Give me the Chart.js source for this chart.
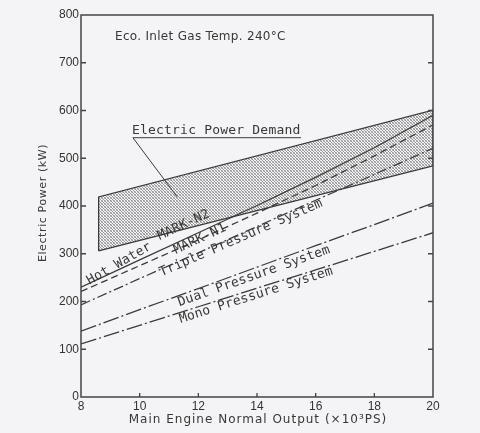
<!DOCTYPE html>
<html><head><meta charset="utf-8">
<script src="https://cdn.jsdelivr.net/npm/chart.js@4.4.0/dist/chart.umd.min.js"></script>
<style>html,body{margin:0;padding:0;background:#f4f4f6;} #wrap{width:480px;height:433px;}</style>
</head><body><div id="wrap"><canvas id="c" width="480" height="433"></canvas></div>
<script>
// ---- data ----
const outputX        = [8, 10, 12, 14, 16, 18, 20];          // x 10^3 PS
const hotWaterMarkN2 = [230, 287, 344, 401, 460, 522, 590];  // kW, solid
const markN1         = [221, 275, 329, 385, 443, 505, 570];  // kW, dashed
const triplePressure = [193, 248, 302, 357, 412, 466, 521];  // kW
const dualPressure   = [138, 183, 227, 272, 317, 361, 406];  // kW
const monoPressure   = [111, 150, 189, 228, 266, 305, 344];  // kW
const demandX        = [8.6, 20];
const demandUpper    = [419, 601];
const demandLower    = [306, 484];
const leaderX        = [15.5, 9.77, 11.28];
const leaderY        = [543, 543, 419];
const xTickValues    = [8, 10, 12, 14, 16, 18, 20];
const yTickValues    = [0, 100, 200, 300, 400, 500, 600, 700, 800];

const labelTexts  = ['Hot Water', 'MARK-N2', 'MARK-N1', 'Triple Pressure System', 'Dual Pressure System', 'Mono Pressure System', 'Electric Power Demand', 'Eco. Inlet Gas Temp. 240°C'];
const labelX      = [9.3, 11.5, 12.06, 13.46, 13.9, 13.97, 12.61, 9.16];
const labelY      = [279, 360, 331, 333, 253, 213, 557, 754];
const labelAngle  = [-30, -25, -25, -23.5, -19.5, -17.7, 0, 0];
const labelAlign  = ['center','center','center','center','center','center','center','left'];

// ---- build ----
const pts = (xs, ys) => xs.map((x, i) => ({x, y: ys[i]}));
const demandShape = [
  {x: demandX[0], y: demandLower[0]}, {x: demandX[0], y: demandUpper[0]},
  {x: demandX[1], y: demandUpper[1]}, {x: demandX[1], y: demandLower[1]},
  {x: demandX[0], y: demandLower[0]}
];

const pc = document.createElement('canvas');
pc.width = 3; pc.height = 3;
const pctx = pc.getContext('2d');
pctx.fillStyle = 'rgba(70,70,70,0.55)';
pctx.fillRect(0, 0, 1, 1); pctx.fillRect(1, 1, 1, 1); pctx.fillRect(2, 2, 1, 1);
pctx.fillStyle = 'rgba(70,70,70,0.3)';
pctx.fillRect(2, 0, 1, 1); pctx.fillRect(0, 2, 1, 1);
const hatch = pctx.createPattern(pc, 'repeat');

const ink = '#3a3a3a';
const lineDs = (label, xs, ys, dash) => ({
  label, data: pts(xs, ys), showLine: true, pointRadius: 0, borderColor: ink,
  borderWidth: 1.3, borderDash: dash, fill: false, tension: 0
});

const decor = {
  id: 'decor',
  afterDatasetsDraw(chart) {
    const {ctx, chartArea: a, scales} = chart;
    const xs = scales.x, ys = scales.y;
    ctx.save();
    ctx.strokeStyle = '#444'; ctx.lineWidth = 1.5;
    ctx.strokeRect(a.left, a.top, a.right - a.left, a.bottom - a.top);
    ctx.lineWidth = 1.3;
    ctx.beginPath();
    yTickValues.forEach(v => {
      if (v === 0 || v === 800) return;
      const py = ys.getPixelForValue(v);
      ctx.moveTo(a.left, py); ctx.lineTo(a.left + 5, py);
      ctx.moveTo(a.right, py); ctx.lineTo(a.right - 5, py);
    });
    xTickValues.forEach(v => {
      if (v === 8 || v === 20) return;
      const px = xs.getPixelForValue(v);
      ctx.moveTo(px, a.bottom); ctx.lineTo(px, a.bottom - 4);
    });
    ctx.stroke();
    ctx.fillStyle = '#383838';
    labelTexts.forEach((t, i) => {
      const px = xs.getPixelForValue(labelX[i]);
      const py = ys.getPixelForValue(labelY[i]);
      ctx.save();
      ctx.translate(px, py);
      ctx.rotate(labelAngle[i] * Math.PI / 180);
      if (i === 7) { ctx.font = '12px "DejaVu Sans"'; ctx.letterSpacing = '0.3px'; }
      else { ctx.font = '13px "DejaVu Sans Mono"'; ctx.letterSpacing = '0.2px'; }
      ctx.textAlign = labelAlign[i]; ctx.textBaseline = 'middle';
      ctx.fillText(t, 0, 0);
      ctx.restore();
    });
    ctx.font = '12px "DejaVu Sans"'; ctx.letterSpacing = '1px';
    ctx.textAlign = 'center'; ctx.textBaseline = 'middle';
    ctx.fillText('Main Engine Normal Output (×10³PS)', 258, 420);
    ctx.save();
    ctx.translate(43, 203); ctx.rotate(-Math.PI / 2);
    ctx.font = '11px "DejaVu Sans"'; ctx.letterSpacing = '0.6px';
    ctx.fillText('Electric Power (kW)', 0, 0);
    ctx.restore();
    ctx.restore();
  }
};

new Chart(document.getElementById('c'), {
  type: 'scatter',
  data: {
    datasets: [
      {label: 'Electric Power Demand', data: demandShape, showLine: true, pointRadius: 0,
       borderColor: ink, borderWidth: 1.2, backgroundColor: hatch, fill: 'shape', tension: 0},
      {label: 'leader', data: pts(leaderX, leaderY), showLine: true, pointRadius: 0,
       borderColor: ink, borderWidth: 1, fill: false, tension: 0},
      lineDs('Hot Water MARK-N2', outputX, hotWaterMarkN2, []),
      lineDs('MARK-N1', outputX, markN1, [7, 4]),
      lineDs('Triple Pressure System', outputX, triplePressure, [10, 3, 2, 3]),
      lineDs('Dual Pressure System', outputX, dualPressure, [16, 3, 2, 3]),
      lineDs('Mono Pressure System', outputX, monoPressure, [16, 3, 2, 3])
    ]
  },
  options: {
    responsive: false, animation: false,
    layout: {padding: 0},
    plugins: {legend: {display: false}, tooltip: {enabled: false}},
    scales: {
      x: {type: 'linear', position: 'bottom', min: 8, max: 20,
          ticks: {stepSize: 2, color: '#333', font: {family: 'Liberation Sans', size: 12}, padding: 2, maxRotation: 0, autoSkip: false},
          grid: {display: false, drawTicks: false}, border: {display: false},
          afterFit(s) { s.height = 36; }},
      y: {type: 'linear', position: 'left', min: 0, max: 800,
          ticks: {stepSize: 100, color: '#333', font: {family: 'Liberation Sans', size: 12}, padding: 2},
          grid: {display: false, drawTicks: false}, border: {display: false},
          afterFit(s) { s.width = 81; }},
      x2: {type: 'linear', position: 'top', min: 8, max: 20,
           ticks: {display: false}, grid: {display: false, drawTicks: false}, border: {display: false},
           afterFit(s) { s.height = 15; }},
      y2: {type: 'linear', position: 'right', min: 0, max: 800,
           ticks: {display: false}, grid: {display: false, drawTicks: false}, border: {display: false},
           afterFit(s) { s.width = 47; }}
    }
  },
  plugins: [decor]
});
</script>
</body></html>
